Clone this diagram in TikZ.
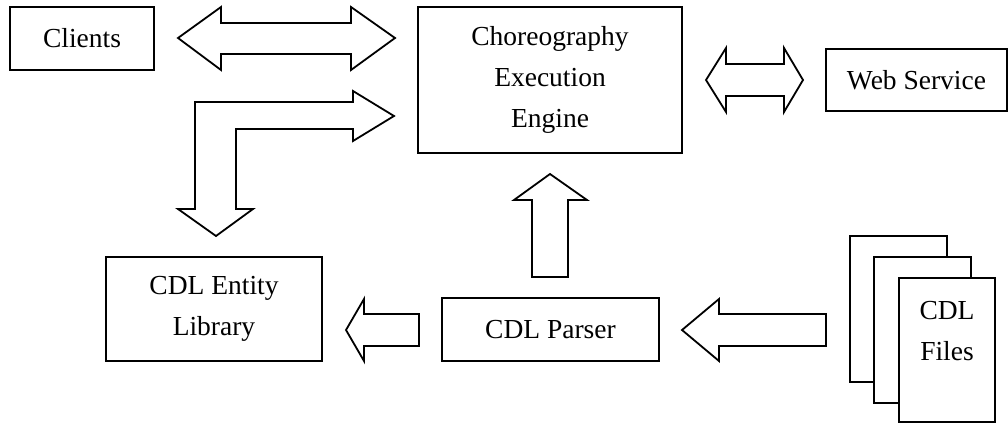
\documentclass[tikz,border=0pt]{standalone}
\usepackage{fontspec}
\setmainfont{Liberation Serif}
\begin{document}
\begin{tikzpicture}[x=1pt,y=-1pt,
  box/.style={draw, line width=1.8pt, inner sep=0pt, align=center,
    font=\fontsize{27.5}{41}\selectfont},
  txt/.style={inner sep=0pt, align=center, font=\fontsize{27.5}{41}\selectfont},
  page/.style={draw, line width=1.8pt, fill=white, inner sep=0pt},
  blockarrow/.style={draw, line width=1.8pt, line join=miter, fill=white}]
\useasboundingbox (0,0) rectangle (1008,423);

% boxes
\node[box, minimum width=144pt, minimum height=63pt] (clients) at (82,38.5) {Clients};
\node[box, minimum width=264pt, minimum height=146pt] (engine) at (550,80)
  {Choreography\\Execution\\Engine};
\node[box, minimum width=181pt, minimum height=62pt] (ws) at (916.5,80) {Web Service};
\node[box, minimum width=216pt, minimum height=104pt] (lib) at (214,309)
  {CDL Entity\\Library};
\node[box, minimum width=217pt, minimum height=63pt] (parser) at (550.5,329.5) {CDL Parser};

% stack of CDL files
\node[page, minimum width=97pt, minimum height=146pt] (page1) at (898.5,309) {};
\node[page, minimum width=97pt, minimum height=146pt] (page2) at (922.5,330) {};
\node[page, minimum width=96pt, minimum height=144pt] (page3) at (947,350) {};
\node[txt] (files) at (947,331) {CDL\\Files};

% Clients <-> engine
\draw[blockarrow] (178,38) -- (221,7) -- (221,23) -- (351,23) -- (351,7) -- (395,38)
  -- (351,70) -- (351,54) -- (221,54) -- (221,70) -- cycle;

% engine <-> entity library (L-shaped)
\draw[blockarrow] (195,209) -- (195,102) -- (353,102) -- (353,91) -- (394,116)
  -- (353,141) -- (353,129) -- (236,129) -- (236,209) -- (253,209) -- (216,236)
  -- (178,209) -- cycle;

% engine <-> web service
\draw[blockarrow] (706,80) -- (726,48) -- (726,64) -- (784,64) -- (784,48) -- (803,80)
  -- (784,112) -- (784,96) -- (726,96) -- (726,112) -- cycle;

% parser -> engine
\draw[blockarrow] (532,277) -- (532,200) -- (514,200) -- (550,174) -- (587,200)
  -- (568,200) -- (568,277) -- cycle;

% parser -> entity library
\draw[blockarrow] (346,330) -- (364,299) -- (364,314) -- (419,314) -- (419,346)
  -- (364,346) -- (364,361) -- cycle;

% files -> parser
\draw[blockarrow] (682,330) -- (719,299) -- (719,314) -- (826,314) -- (826,346)
  -- (719,346) -- (719,361) -- cycle;
\end{tikzpicture}
\end{document}
